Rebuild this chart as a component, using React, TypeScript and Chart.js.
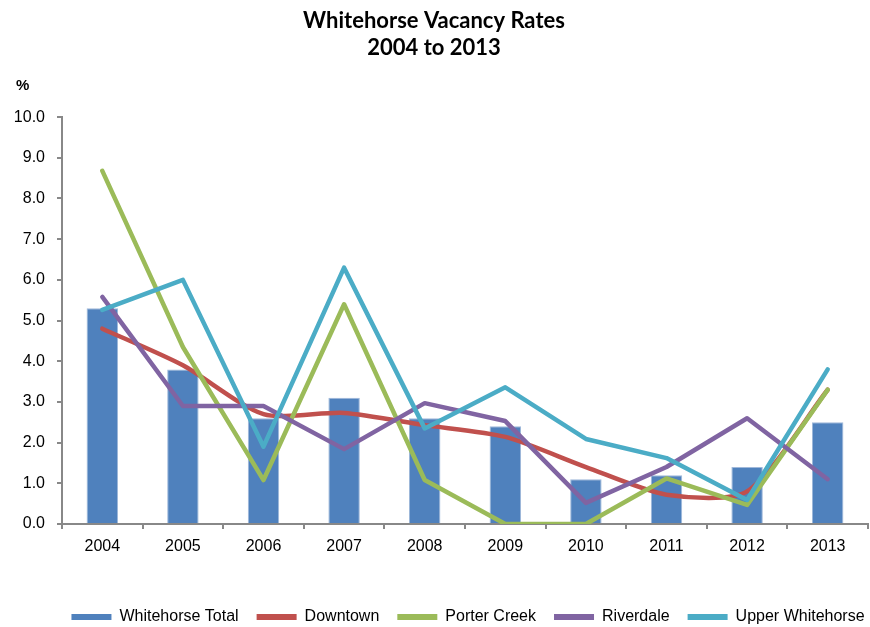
import React, { useEffect, useRef } from "react";
import { Chart, registerables } from "chart.js";

Chart.register(...registerables);

const titleLines = ["Whitehorse Vacancy Rates", "2004 to 2013"];
const yUnit = "%";
const years = ["2004", "2005", "2006", "2007", "2008", "2009", "2010", "2011", "2012", "2013"];
const seriesNames = ["Whitehorse Total", "Downtown", "Porter Creek", "Riverdale", "Upper Whitehorse"];
const whitehorseTotal = [5.3, 3.8, 2.6, 3.1, 2.6, 2.4, 1.1, 1.2, 1.4, 2.5];
const downtown = [4.8, 3.9, 2.7, 2.73, 2.43, 2.14, 1.4, 0.72, 0.8, 3.3];
const porterCreek = [8.68, 4.35, 1.08, 5.4, 1.08, 0, 0, 1.12, 0.47, 3.3];
const riverdale = [5.58, 2.9, 2.9, 1.84, 2.97, 2.53, 0.52, 1.4, 2.6, 1.1];
const upperWhitehorse = [5.26, 6.0, 1.9, 6.3, 2.35, 3.36, 2.09, 1.62, 0.59, 3.8];
const yMin = 0;
const yMax = 10;
const yStep = 1;

const colors = ["#4F81BD", "#C0504D", "#9BBB59", "#8064A2", "#4BACC6"];

const LEGEND_SHIFT = 34;

const percentLabel = {
  id: "percentLabel",
  afterLayout(chart: any) {
    const lg = chart.legend;
    if (lg) {
      lg.left += LEGEND_SHIFT;
      lg.right += LEGEND_SHIFT;
    }
  },
  afterDraw(chart: any) {
    const { ctx, chartArea } = chart;
    ctx.save();
    ctx.font = 'bold 15px "Liberation Sans", Arial, sans-serif';
    ctx.fillStyle = "#000";
    ctx.textAlign = "left";
    ctx.textBaseline = "middle";
    ctx.fillText(yUnit, chartArea.left - 46, chartArea.top - 31);
    ctx.restore();
  },
};

export default function App() {
  const ref = useRef<HTMLCanvasElement | null>(null);

  useEffect(() => {
    if (!ref.current) return;
    const lineDs = (label: string, data: number[], color: string, order: number, tension = 0) => ({
      type: "line" as const,
      label,
      data,
      borderColor: color,
      backgroundColor: color,
      borderWidth: 4.5,
      pointRadius: 0,
      tension,
      borderCapStyle: "round" as const,
      borderJoinStyle: "round" as const,
      order,
    });
    const chart = new Chart(ref.current, {
      type: "bar",
      data: {
        labels: years,
        datasets: [
          {
            type: "bar",
            label: seriesNames[0],
            data: whitehorseTotal,
            backgroundColor: colors[0],
            borderColor: "#9FB8DA",
            borderWidth: 1,
            barPercentage: 0.39,
            categoryPercentage: 1,
            order: 10,
          } as any,
          lineDs(seriesNames[1], downtown, colors[1], 4, 0.25),
          lineDs(seriesNames[2], porterCreek, colors[2], 3),
          lineDs(seriesNames[3], riverdale, colors[3], 2),
          lineDs(seriesNames[4], upperWhitehorse, colors[4], 1),
        ],
      },
      options: {
        responsive: false,
        animation: false,
        layout: { padding: { left: 0, right: 2, top: 0, bottom: -8 } },
        plugins: {
          title: {
            display: true,
            text: titleLines,
            color: "#000",
            font: { family: "Lato, 'Open Sans', sans-serif", size: 22, weight: "bold", lineHeight: 1.23 },
            padding: { top: 7, bottom: 56 },
          },
          legend: {
            position: "bottom",
            fullSize: true,
            align: "center",
            labels: {
              boxWidth: 40,
              boxHeight: 6,
              padding: 18,
              color: "#000",
              font: { family: "'Liberation Sans', Arial, sans-serif", size: 16 },
              sort: (a: any, b: any) => a.datasetIndex - b.datasetIndex,
              generateLabels: (c: any) => {
                const items = Chart.defaults.plugins.legend.labels.generateLabels(c);
                return items.map((it: any) => ({
                  ...it,
                  fillStyle: colors[it.datasetIndex],
                  strokeStyle: "rgba(0,0,0,0)",
                  lineWidth: 0,
                }));
              },
            },
          },
          tooltip: { enabled: false },
        },
        scales: {
          x: {
            offset: true,
            grid: {
              display: true,
              offset: true,
              drawOnChartArea: false,
              drawTicks: true,
              tickLength: 5,
              color: "#888",
              lineWidth: 2,
            },
            border: { display: true, color: "#888", width: 2 },
            ticks: {
              color: "#000",
              padding: 8,
              font: { family: "'Liberation Sans', Arial, sans-serif", size: 16 },
            },
            afterFit: (s: any) => {
              s.height = 67;
            },
          },
          y: {
            min: yMin,
            max: yMax,
            grid: {
              display: true,
              drawOnChartArea: false,
              drawTicks: true,
              tickLength: 5,
              color: "#888",
              lineWidth: 2,
            },
            border: { display: true, color: "#888", width: 2 },
            ticks: {
              stepSize: yStep,
              color: "#000",
              padding: 12,
              font: { family: "'Liberation Sans', Arial, sans-serif", size: 16 },
              callback: (v: any) => Number(v).toFixed(1),
            },
            afterFit: (s: any) => {
              s.width = 62;
            },
          },
        },
      },
      plugins: [percentLabel],
    });
    return () => chart.destroy();
  }, []);

  return (
    <canvas
      ref={ref}
      width={870}
      height={627}
      style={{ position: "fixed", left: 0, top: 0, display: "block", width: 870, height: 627 }}
    />
  );
}
